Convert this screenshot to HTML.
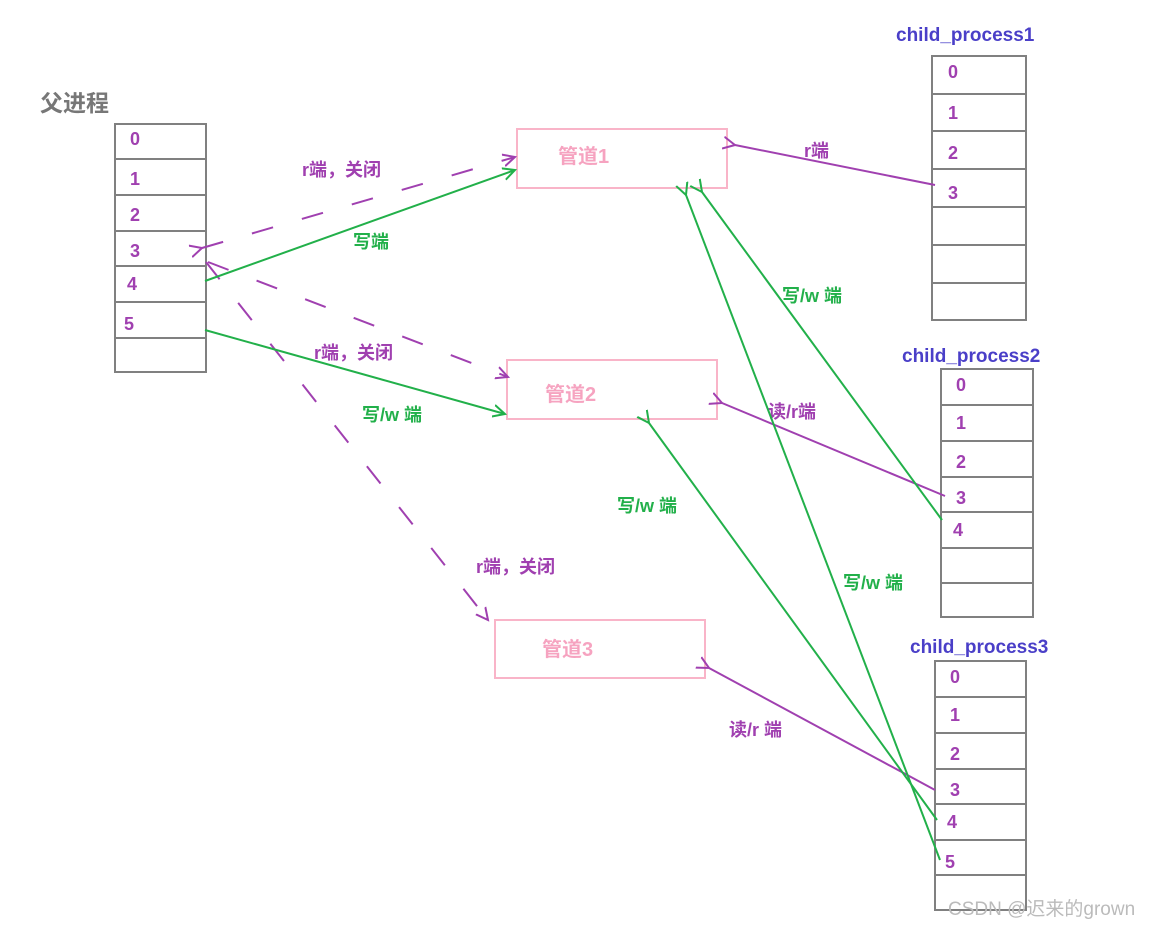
<!DOCTYPE html>
<html><head><meta charset="utf-8"><style>
body{margin:0;background:#fff;}
svg text{font-family:"Liberation Sans","Noto Sans CJK SC",sans-serif;font-weight:bold;}
</style></head><body>
<svg width="1161" height="927" viewBox="0 0 1161 927" xmlns="http://www.w3.org/2000/svg">
<defs>
<marker id="pa" markerWidth="14" markerHeight="14" refX="2" refY="7" orient="auto-start-reverse" markerUnits="userSpaceOnUse"><path d="M14,1 L2,7 L14,13" fill="none" stroke="#a040b0" stroke-width="2"/></marker>
<marker id="ga" markerWidth="14" markerHeight="14" refX="12" refY="7" orient="auto" markerUnits="userSpaceOnUse"><path d="M0,1 L12,7 L0,13" fill="none" stroke="#22b04a" stroke-width="2"/></marker>
<marker id="ga2" markerWidth="14" markerHeight="14" refX="2" refY="7" orient="auto" markerUnits="userSpaceOnUse"><path d="M14,1 L2,7 L14,13" fill="none" stroke="#22b04a" stroke-width="2"/></marker>
<marker id="pd" markerWidth="14" markerHeight="14" refX="12" refY="7" orient="auto" markerUnits="userSpaceOnUse"><path d="M0,1 L12,7 L0,13" fill="none" stroke="#a040b0" stroke-width="2"/></marker>
</defs>
<g fill="none" stroke="#808080" stroke-width="2">
<rect x="115" y="124" width="91" height="248"/>
<path d="M115 159H206M115 195H206M115 231H206M115 266H206M115 302H206M115 338H206"/>
<rect x="932" y="56" width="94" height="264"/>
<path d="M932 94H1026M932 131H1026M932 169H1026M932 207H1026M932 245H1026M932 283H1026"/>
<rect x="941" y="369" width="92" height="248"/>
<path d="M941 405H1033M941 441H1033M941 477H1033M941 512H1033M941 548H1033M941 583H1033"/>
<rect x="935" y="661" width="91" height="249"/>
<path d="M935 697H1026M935 733H1026M935 769H1026M935 804H1026M935 840H1026M935 875H1026"/>
</g>
<g fill="none" stroke="#f9b4c8" stroke-width="2">
<rect x="517" y="129" width="210" height="59"/>
<rect x="507" y="360" width="210" height="59"/>
<rect x="495" y="620" width="210" height="58"/>
</g>
<g font-size="20" fill="#f6a3c0"><text x="558" y="163">管道1</text><text x="545" y="401">管道2</text><text x="542" y="656">管道3</text></g>
<text x="40" y="111" font-size="23" fill="#777">父进程</text>
<g font-size="19" fill="#4a3fc8"><text x="896" y="41">child_process1</text><text x="902" y="362">child_process2</text><text x="910" y="653">child_process3</text></g>
<g font-size="18" fill="#a040b0">
<text x="130" y="145">0</text><text x="130" y="185">1</text><text x="130" y="221">2</text><text x="130" y="257">3</text><text x="127" y="290">4</text><text x="124" y="330">5</text>
<text x="948" y="78">0</text><text x="948" y="119">1</text><text x="948" y="159">2</text><text x="948" y="199">3</text>
<text x="956" y="391">0</text><text x="956" y="429">1</text><text x="956" y="468">2</text><text x="956" y="504">3</text><text x="953" y="536">4</text>
<text x="950" y="683">0</text><text x="950" y="721">1</text><text x="950" y="760">2</text><text x="950" y="796">3</text><text x="947" y="828">4</text><text x="945" y="868">5</text>
</g>
<g font-size="18" fill="#a040b0">
<text x="302" y="176">r端，关闭</text><text x="314" y="359">r端，关闭</text><text x="476" y="573">r端，关闭</text>
<text x="804" y="157">r端</text><text x="768" y="418">读/r端</text><text x="729" y="736">读/r 端</text>
</g>
<g font-size="18" fill="#22b04a">
<text x="353" y="248">写端</text><text x="362" y="421">写/w 端</text><text x="782" y="302">写/w 端</text><text x="617" y="512">写/w 端</text><text x="843" y="589">写/w 端</text>
</g>
<g fill="none" stroke="#a040b0" stroke-width="2" stroke-dasharray="22,30">
<path d="M202 248 L515 157" marker-start="url(#pa)" marker-end="url(#pd)"/>
<path d="M208 262 L508 377" marker-end="url(#pd)"/>
<path d="M206 262 L488 620" marker-end="url(#pd)"/>
</g>
<g fill="none" stroke="#a040b0" stroke-width="2">
<path d="M935 185 L735 145" marker-end="url(#pa)" marker-start="none"/>
<path d="M945 496 L722 403" marker-end="url(#pa)"/>
<path d="M935 790 L709 668" marker-end="url(#pa)"/>
</g>
<g fill="none" stroke="#22b04a" stroke-width="2">
<path d="M205 281 L515 170" marker-end="url(#ga)"/>
<path d="M205 330 L505 414" marker-end="url(#ga)"/>
<path d="M942 520 L702 192" marker-end="url(#ga2)"/>
<path d="M940 860 L686 195" marker-end="url(#ga2)"/>
<path d="M937 820 L649 423" marker-end="url(#ga2)"/>
</g>
<text x="948" y="915" font-size="19" fill="#bbb" style="font-weight:normal">CSDN @迟来的grown</text>
</svg>
</body></html>
